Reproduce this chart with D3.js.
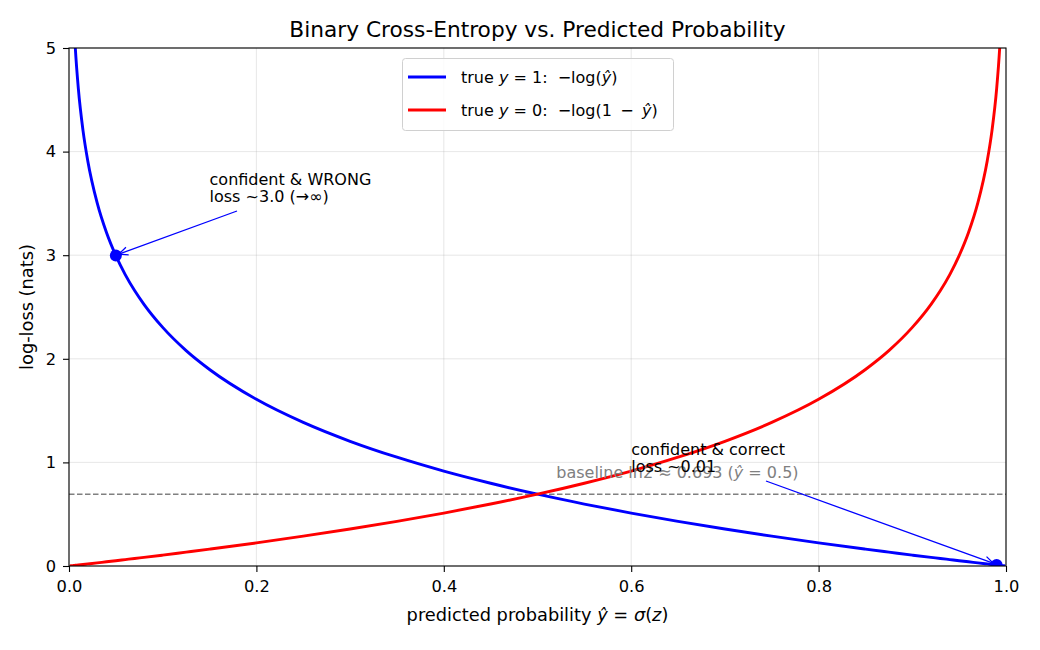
<!DOCTYPE html>
<html><head><meta charset="utf-8">
<script src="https://cdn.jsdelivr.net/npm/d3@7"></script>
<style>body{margin:0;background:#fff}svg{font-family:"DejaVu Sans",sans-serif}</style>
</head><body>
<svg id="c" width="1040" height="650"></svg>
<script>
const probs = [0.001,0.003,0.005,0.0067,0.01,0.015,0.02,0.03,0.04,0.05,0.06,0.07,0.08,0.1,0.125,0.15,0.2,0.25,0.3,0.35,0.4,0.45,0.5,0.55,0.6,0.65,0.7,0.75,0.8,0.85,0.875,0.9,0.92,0.93,0.94,0.95,0.96,0.97,0.98,0.985,0.99,0.9933,0.995,0.997,0.999];
const lossTrue1 = [6.908,5.809,5.298,5.006,4.605,4.200,3.912,3.507,3.219,2.996,2.813,2.659,2.526,2.303,2.079,1.897,1.609,1.386,1.204,1.050,0.916,0.799,0.693,0.598,0.511,0.431,0.357,0.288,0.223,0.163,0.134,0.105,0.083,0.073,0.062,0.051,0.041,0.030,0.020,0.015,0.010,0.0067,0.005,0.003,0.001];
const lossTrue0 = [0.001,0.003,0.005,0.0067,0.010,0.015,0.020,0.030,0.041,0.051,0.062,0.073,0.083,0.105,0.134,0.163,0.223,0.288,0.357,0.431,0.511,0.598,0.693,0.799,0.916,1.050,1.204,1.386,1.609,1.897,2.079,2.303,2.526,2.659,2.813,2.996,3.219,3.507,3.912,4.200,4.605,5.006,5.298,5.809,6.908];
const xTicks = [0.0,0.2,0.4,0.6,0.8,1.0];
const yTicks = [0,1,2,3,4,5];
const markerPts = [{p:0.05,l:2.996},{p:0.99,l:0.010}];
const baselineLoss = 0.693;

const svg = d3.select("#c");
const L=69,R=1006,T=48,B=566;
const x = d3.scaleLinear().domain([0,1]).range([L,R]);
const y = d3.scaleLinear().domain([0,5]).range([B,T]);

svg.append("defs").append("clipPath").attr("id","clip").append("rect")
  .attr("x",L).attr("y",T).attr("width",R-L).attr("height",B-T);
const mk = svg.select("defs").append("marker").attr("id","arr").attr("viewBox","0 0 10 10")
  .attr("refX",10).attr("refY",5).attr("markerWidth",10).attr("markerHeight",10).attr("markerUnits","userSpaceOnUse").attr("orient","auto");
mk.append("path").attr("d","M1,1 L10,5 L1,9").attr("fill","none").attr("stroke","#0000ff").attr("stroke-width",1.3);

// grid
svg.append("g").selectAll("line").data(xTicks).join("line")
  .attr("x1",d=>x(d)).attr("x2",d=>x(d)).attr("y1",T).attr("y2",B).attr("stroke","#b0b0b0").attr("stroke-opacity",0.3).attr("stroke-width",1);
svg.append("g").selectAll("line").data(yTicks).join("line")
  .attr("y1",d=>y(d)).attr("y2",d=>y(d)).attr("x1",L).attr("x2",R).attr("stroke","#b0b0b0").attr("stroke-opacity",0.3).attr("stroke-width",1);

// baseline
svg.append("line").attr("x1",L).attr("x2",R).attr("y1",y(baselineLoss)).attr("y2",y(baselineLoss))
  .attr("stroke","#808080").attr("stroke-width",1.4).attr("stroke-dasharray","5.5,2.5");

const gp = svg.append("g").attr("clip-path","url(#clip)");
const line = d3.line().x((d,i)=>x(probs[i])).y(d=>y(d)).curve(d3.curveMonotoneX);
gp.append("path").attr("d",line(lossTrue1)).attr("fill","none").attr("stroke","#0000ff").attr("stroke-width",2.9);
gp.append("path").attr("d",line(lossTrue0)).attr("fill","none").attr("stroke","#ff0000").attr("stroke-width",2.9);
gp.selectAll("circle").data(markerPts).join("circle").attr("cx",d=>x(d.p)).attr("cy",d=>y(d.l)).attr("r",6).attr("fill","#0000ff");

// axes
const ax = svg.append("g").attr("transform",`translate(0,${B})`).call(d3.axisBottom(x).tickValues(xTicks).tickFormat(d3.format(".1f")).tickSizeOuter(0).tickSize(6).tickPadding(8));
const ay = svg.append("g").attr("transform",`translate(${L},0)`).call(d3.axisLeft(y).tickValues(yTicks).tickFormat(d3.format("d")).tickSizeOuter(0).tickSize(6).tickPadding(7));
[ax,ay].forEach(g=>{g.select(".domain").remove();g.selectAll("text").attr("font-size",16.25).attr("fill","#000").attr("font-family","DejaVu Sans");g.selectAll("line").attr("stroke","#000").attr("stroke-width",1.1);});
svg.append("rect").attr("x",L).attr("y",T).attr("width",R-L).attr("height",B-T).attr("fill","none").attr("stroke","#000").attr("stroke-width",1.1);

// titles
svg.append("text").attr("x",(L+R)/2).attr("y",37).attr("text-anchor","middle").attr("font-size",21.7).text("Binary Cross-Entropy vs. Predicted Probability");
const xl = svg.append("text").attr("x",(L+R)/2).attr("y",621).attr("text-anchor","middle").attr("font-size",17.8);
xl.append("tspan").text("predicted probability ");
xl.append("tspan").attr("font-style","italic").text("ŷ");
xl.append("tspan").text(" = ");
xl.append("tspan").attr("font-style","italic").text("σ");
xl.append("tspan").text("(");
xl.append("tspan").attr("font-style","italic").text("z");
xl.append("tspan").text(")");
svg.append("text").attr("transform",`translate(33,${(T+B)/2}) rotate(-90)`).attr("text-anchor","middle").attr("font-size",17.8).text("log-loss (nats)");

// annotations
const a1 = svg.append("text").attr("font-size",16).attr("fill","#000");
a1.append("tspan").attr("x",x(0.15)).attr("y",y(3.5)-18).text("confident & WRONG");
a1.append("tspan").attr("x",x(0.15)).attr("y",y(3.5)-1).text("loss ~3.0 (→∞)");
svg.append("line").attr("x1",237).attr("y1",211).attr("x2",x(0.05)+3).attr("y2",y(2.996)-1.5).attr("stroke","#0000ff").attr("stroke-width",1.3).attr("marker-end","url(#arr)");

const bt = svg.append("text").attr("x",x(0.52)).attr("y",y(0.85)).attr("font-size",16).attr("fill","#808080");
bt.append("tspan").text("baseline ln2 ≈ 0.693 (");
bt.append("tspan").attr("font-style","italic").text("ŷ");
bt.append("tspan").text(" = 0.5)");

const a2 = svg.append("text").attr("font-size",16).attr("fill","#000");
a2.append("tspan").attr("x",x(0.6)).attr("y",y(0.9)-18).text("confident & correct");
a2.append("tspan").attr("x",x(0.6)).attr("y",y(0.9)-1).text("loss ~0.01");
svg.append("line").attr("x1",766).attr("y1",481).attr("x2",x(0.99)-3).attr("y2",y(0.01)-1.5).attr("stroke","#0000ff").attr("stroke-width",1.3).attr("marker-end","url(#arr)");

// legend
const lg = svg.append("g");
lg.append("rect").attr("x",402.5).attr("y",58.5).attr("width",271).attr("height",72).attr("rx",3).attr("fill","#fff").attr("fill-opacity",0.8).attr("stroke","#d0d0d0");
const items = [{c:"#0000ff",yy:77,parts:[["true ",0],["y",1],[" = 1:  −log(",0],["ŷ",1],[")",0]]},
               {c:"#ff0000",yy:110,parts:[["true ",0],["y",1],[" = 0:  −log(1 \u2009−\u2009 ",0],["ŷ",1],[")",0]]}];
items.forEach(it=>{
  lg.append("line").attr("x1",408).attr("x2",446).attr("y1",it.yy).attr("y2",it.yy).attr("stroke",it.c).attr("stroke-width",2.9);
  const t = lg.append("text").attr("x",461).attr("y",it.yy+6).attr("font-size",16).attr("xml:space","preserve").style("white-space","pre");
  it.parts.forEach(p=>t.append("tspan").attr("font-style",p[1]?"italic":"normal").text(p[0]));
});
</script>
</body></html>
